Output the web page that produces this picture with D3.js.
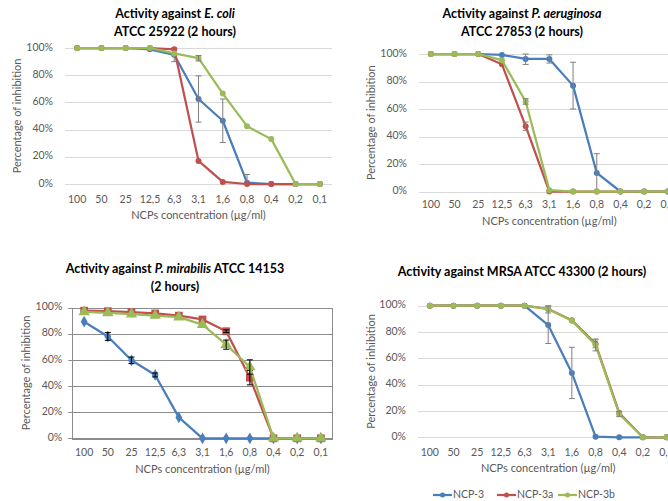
<!DOCTYPE html>
<html>
<head>
<meta charset="utf-8">
<script src="https://cdn.jsdelivr.net/npm/d3@7"></script>
<style>
    body { margin: 0; background: #fff; }
    svg { display: block; }
    .font { font-family: Lato, "Open Sans", sans-serif; fill: #595959; }
    .title { font-weight: bold; fill: #000; font-size: 12.5px; }
    .tick-label { font-size: 10.5px; }
    .axis-title { font-size: 11px; }
    .legend-label { font-size: 10.5px; }
</style>
</head>
<body>
<svg id="chart" width="668" height="501"></svg>
<script>
// concentrations (categories) and series names
const CONCENTRATIONS = ["100", "50", "25", "12,5", "6,3", "3,1", "1,6", "0,8", "0,4", "0,2", "0,1"];
const SERIES_NAMES = ["NCP-3", "NCP-3a", "NCP-3b"];
const Y_TICKS = [0, 20, 40, 60, 80, 100];

// E. coli
const ECOLI_NCP3 = [100, 100, 100, 99, 95, 62.5, 46.5, 1, 0, 0, 0];
const ECOLI_NCP3A = [100, 100, 100, 100, 99, 17, 1.5, 0, 0, 0, 0];
const ECOLI_NCP3B = [100, 100, 100, 100, 96, 92.5, 66.5, 42.5, 33, 0, 0];
const ECOLI_ERR3 = [0, 0, 0, 0, 5, 17, 16, 6, 0, 0, 0];
const ECOLI_ERR3A = [0, 0, 0, 0, 0, 0, 0, 0, 0, 0, 0];
const ECOLI_ERR3B = [0, 0, 0, 0, 0, 2, 0, 0, 0, 0, 0];

// P. aeruginosa
const AERU_NCP3 = [100, 100, 100, 99.3, 96.4, 96.4, 77, 13.5, 0, 0, 0];
const AERU_NCP3A = [100, 100, 100, 92.5, 47.5, 0, 0, 0, 0, 0, 0];
const AERU_NCP3B = [100, 100, 100, 95.5, 65.5, 1, 0, 0, 0, 0, 0];
const AERU_ERR3 = [0, 0, 0, 0, 4, 3, 17, 14, 0, 0, 0];
const AERU_ERR3A = [0, 0, 0, 0, 3, 0, 0, 0, 0, 0, 0];
const AERU_ERR3B = [0, 0, 0, 0, 2, 0, 0, 0, 0, 0, 0];

// P. mirabilis
const MIRA_NCP3 = [89.3, 78, 59.7, 48.5, 16, 0, 0, 0, 0, 0, 0];
const MIRA_NCP3A = [97.7, 97.3, 96.6, 95.6, 93.9, 91, 82, 46.4, 0, 0, 0];
const MIRA_NCP3B = [96.8, 96, 95.1, 94, 92.8, 87, 71.7, 54.6, 0, 0, 0];
const MIRA_ERR3 = [0, 3, 2.5, 1.5, 0, 0, 0, 0, 0, 0, 0];
const MIRA_ERR3A = [0, 0, 0, 0, 0, 0, 1, 5.5, 0, 0, 0];
const MIRA_ERR3B = [0, 0, 0, 0, 0, 0, 3.5, 5.5, 0, 0, 0];

// MRSA
const MRSA_NCP3 = [100, 100, 100, 100, 100, 85.3, 48.9, 0.5, 0, 0, 0];
const MRSA_NCP3A = [100, 100, 100, 100, 100, 97.5, 89, 71, 18.5, 0, 0];
const MRSA_NCP3B = [100, 100, 100, 100, 100, 97.5, 88.6, 70.2, 17.7, 0, 0];
const MRSA_ERR3 = [0, 0, 0, 0, 0, 14, 19.5, 0, 0, 0, 0];
const MRSA_ERR3A = [0, 0, 0, 0, 0, 0, 0, 3, 0, 0, 0];
const MRSA_ERR3B = [0, 0, 0, 0, 0, 3, 0, 4.5, 2, 0, 0];

const COLORS = ["#4a7ebb", "#c0504d", "#9bbb59"];
const X_TITLE = "NCPs concentration  (\u00b5g/ml)";
const Y_TITLE = "Percentage of inhibition";

const PANELS = [
    {
        titleLines: [[["Activity against ", false], ["E. coli", true]], [["ATCC 25922 (2 hours)", false]]],
        titleX: 175, titleY: 15,
        left: 65, right: 332, top: 48, bottom: 184,
        values: [ECOLI_NCP3, ECOLI_NCP3A, ECOLI_NCP3B],
        errors: [ECOLI_ERR3, ECOLI_ERR3A, ECOLI_ERR3B],
        xTickY: 200, xTitleY: 216, yTitleX: 18,
        classic: false
    },
    {
        titleLines: [[["Activity against ", false], ["P. aeruginosa", true]], [["ATCC 27853 (2 hours)", false]]],
        titleX: 522, titleY: 15,
        left: 419, right: 679.7, top: 54, bottom: 191.5,
        values: [AERU_NCP3, AERU_NCP3A, AERU_NCP3B],
        errors: [AERU_ERR3, AERU_ERR3A, AERU_ERR3B],
        xTickY: 205, xTitleY: 222, yTitleX: 372,
        classic: false
    },
    {
        titleLines: [[["Activity against ", false], ["P. mirabilis", true], [" ATCC 14153", false]], [["(2 hours)", false]]],
        titleX: 175, titleY: 270,
        left: 72.3, right: 332.7, top: 307.7, bottom: 438.3,
        values: [MIRA_NCP3, MIRA_NCP3A, MIRA_NCP3B],
        errors: [MIRA_ERR3, MIRA_ERR3A, MIRA_ERR3B],
        xTickY: 453, xTitleY: 470, yTitleX: 27,
        classic: true
    },
    {
        titleLines: [[["Activity against MRSA ATCC 43300 (2 hours)", false]]],
        titleX: 522, titleY: 273,
        left: 418, right: 678.4, top: 305.7, bottom: 437.3,
        values: [MRSA_NCP3, MRSA_NCP3A, MRSA_NCP3B],
        errors: [MRSA_ERR3, MRSA_ERR3A, MRSA_ERR3B],
        xTickY: 453, xTitleY: 469, yTitleX: 372,
        classic: false
    }
];

const svg = d3.select("#chart");

PANELS.forEach(function(p) {
    var g = svg.append("g");
    var xScale = d3.scaleBand().domain(CONCENTRATIONS).range([p.left, p.right]);
    var yScale = d3.scaleLinear().domain([0, 100]).range([p.bottom, p.top]);
    var cx = function(i) { return xScale(CONCENTRATIONS[i]) + xScale.bandwidth() / 2; };

    // title
    p.titleLines.forEach(function(line, li) {
        var t = g.append("text")
            .attr("x", p.titleX)
            .attr("y", p.titleY + li * 17.5)
            .attr("text-anchor", "middle")
            .attr("dominant-baseline", "middle")
            .classed("font title", true);
        line.forEach(function(part) {
            t.append("tspan").text(part[0]).attr("font-style", part[1] ? "italic" : null);
        });
    });

    // gridlines
    var gridColor = p.classic ? "#8c8c8c" : "#d9d9d9";
    g.selectAll(".grid")
        .data(Y_TICKS)
        .enter()
        .append("line")
        .attr("x1", p.classic ? p.left - 4 : p.left)
        .attr("x2", p.right)
        .attr("y1", function(d) { return Math.round(yScale(d)) + 0.5; })
        .attr("y2", function(d) { return Math.round(yScale(d)) + 0.5; })
        .attr("stroke", gridColor)
        .attr("stroke-width", 1);
    if (p.classic) {
        g.append("rect")
            .attr("x", Math.round(p.left) + 0.5)
            .attr("y", Math.round(p.top) + 0.5)
            .attr("width", Math.round(p.right - p.left))
            .attr("height", Math.round(p.bottom - p.top))
            .attr("fill", "none")
            .attr("stroke", gridColor);
    }

    // y tick labels
    g.selectAll(".ylab")
        .data(Y_TICKS)
        .enter()
        .append("text")
        .attr("x", p.left - (p.classic ? 10 : 12))
        .attr("y", function(d) { return yScale(d); })
        .attr("text-anchor", "end")
        .attr("dominant-baseline", "middle")
        .text(function(d) { return d + "%"; })
        .classed("font tick-label", true);

    // x tick labels (the last one is cut by the right edge, as in the original)
    g.selectAll(".xlab")
        .data(CONCENTRATIONS)
        .enter()
        .append("text")
        .attr("x", function(d) { return xScale(d) + xScale.bandwidth() / 2; })
        .attr("y", p.xTickY)
        .attr("text-anchor", "middle")
        .attr("dominant-baseline", "middle")
        .text(function(d) { return d; })
        .classed("font tick-label", true);

    // axis titles
    g.append("text")
        .attr("x", (p.left + p.right) / 2)
        .attr("y", p.xTitleY)
        .attr("text-anchor", "middle")
        .attr("dominant-baseline", "middle")
        .text(X_TITLE)
        .classed("font axis-title", true);
    g.append("text")
        .attr("transform", "translate(" + p.yTitleX + "," + (p.top + p.bottom) / 2 + ") rotate(-90)")
        .attr("text-anchor", "middle")
        .attr("dominant-baseline", "middle")
        .text(Y_TITLE)
        .classed("font axis-title", true);

    // series lines
    var line = d3.line()
        .x(function(d, i) { return cx(i); })
        .y(function(d) { return yScale(d); });
    p.values.forEach(function(vals, s) {
        g.append("path")
            .attr("d", line(vals))
            .attr("fill", "none")
            .attr("stroke", COLORS[s])
            .attr("stroke-width", 2.25)
            .attr("stroke-linejoin", "round");

        // markers
        vals.forEach(function(v, i) {
            var x = cx(i), y = yScale(v);
            if (!p.classic) {
                g.append("circle").attr("cx", x).attr("cy", y).attr("r", 3).attr("fill", COLORS[s]);
            } else {
                var sym = [d3.symbolDiamond, d3.symbolSquare, d3.symbolTriangle][s];
                var size = [40, 60, 56][s];
                g.append("path")
                    .attr("d", d3.symbol().type(sym).size(size)())
                    .attr("transform", "translate(" + x + "," + y + ")")
                    .attr("fill", COLORS[s]);
            }
        });

        // error bars
        p.errors[s].forEach(function(e, i) {
            if (e <= 0) return;
            var x = cx(i);
            var y1 = yScale(Math.min(100, vals[i] + e)), y2 = yScale(Math.max(0, vals[i] - e));
            var ec = p.classic ? "#000" : "#7f7f7f";
            g.append("line").attr("x1", x).attr("x2", x).attr("y1", y1).attr("y2", y2).attr("stroke", ec);
            [y1, y2].forEach(function(yy) {
                g.append("line").attr("x1", x - 3).attr("x2", x + 3).attr("y1", yy).attr("y2", yy).attr("stroke", ec);
            });
        });
    });
});

// legend
const LEGEND_X = [433, 497, 558];
var legend = svg.append("g");
SERIES_NAMES.forEach(function(name, s) {
    legend.append("line")
        .attr("x1", LEGEND_X[s]).attr("x2", LEGEND_X[s] + 19)
        .attr("y1", 495).attr("y2", 495)
        .attr("stroke", COLORS[s]).attr("stroke-width", 2.25);
    legend.append("circle")
        .attr("cx", LEGEND_X[s] + 9.5).attr("cy", 495).attr("r", 2.5)
        .attr("fill", COLORS[s]);
    legend.append("text")
        .attr("x", LEGEND_X[s] + 20)
        .attr("y", 495)
        .attr("dominant-baseline", "middle")
        .text(name)
        .classed("font legend-label", true);
});
</script>
</body>
</html>
